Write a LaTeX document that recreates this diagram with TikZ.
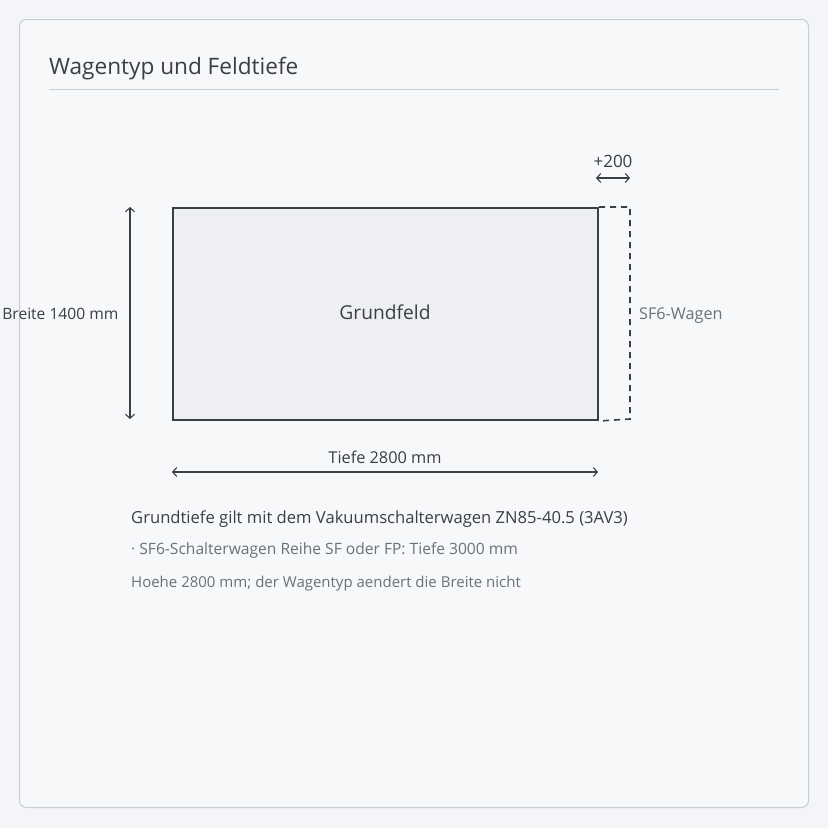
\documentclass[tikz,border=0pt]{standalone}
\usepackage{fontspec}
\setmainfont{Open Sans}
\usetikzlibrary{arrows.meta}
\definecolor{pagebg}{HTML}{F4F5F8}
\definecolor{cardbg}{HTML}{F7F8FA}
\definecolor{cardline}{HTML}{C9CBD6}
\definecolor{ink}{HTML}{3B3E44}
\definecolor{mute}{HTML}{6C7079}
\definecolor{fieldbg}{HTML}{EEEFF3}
\tikzset{
txt/.style={inner sep=0pt, text=ink, anchor=base},
note/.style={txt, text=mute},
dim/.style={draw=ink, line width=1.1pt, {Straight Barb[length=4pt,width=9pt]}-{Straight Barb[length=4pt,width=9pt]}}
}

\begin{document}
\begin{tikzpicture}[x=1pt,y=-1pt]
\useasboundingbox (0,0) rectangle (828,828);
\fill[pagebg] (0,0) rectangle (828,828);
\draw[cardline, fill=cardbg, line width=1pt, rounded corners=7pt] (19.5,19.5) rectangle (808.5,807.5);

\node[txt, anchor=base west, font=\fontsize{22.6}{27}\selectfont] (title) at (49,74) {Wagentyp und Feldtiefe};
\draw[cardline, line width=1pt] (49,89) -- (779,89);

% Grundfeld und SF6-Verlaengerung
\node[draw=ink, fill=fieldbg, line width=2pt, minimum width=425pt, minimum height=212pt, inner sep=0pt, anchor=north west] (feld) at (172,207) {};
\node[txt, font=\fontsize{19.2}{23}\selectfont] at (385,319) {Grundfeld};
\draw[ink, line width=1.6pt, dash pattern=on 6pt off 5pt] (feld.north east) -- ++(31,0) coordinate (ne) -- ++(0,212) coordinate (se) -- (feld.south east);
\node[note, anchor=base west, font=\fontsize{16.2}{19}\selectfont] (sf6) at (639,319) {SF6-Wagen};

% Masse
\coordinate (p1) at (596,178);
\coordinate (p2) at (630,178);
\draw[dim] (p1) -- (p2);
\node[txt, font=\fontsize{17}{20}\selectfont] (plus) at (613,167) {+200};

\coordinate (b1) at (130,207);
\coordinate (b2) at (130,419);
\draw[dim] (b1) -- (b2);
\node[txt, anchor=base east, font=\fontsize{15.6}{19}\selectfont] (breite) at (118.5,319) {Breite 1400 mm};

\coordinate (t1) at (172,472);
\coordinate (t2) at (598,472);
\draw[dim] (t1) -- (t2);
\node[txt, font=\fontsize{16.3}{19}\selectfont] (tiefe) at (385,463) {Tiefe 2800 mm};

% Hinweise
\node[txt, anchor=base west, font=\fontsize{16.6}{19}\selectfont] (l1) at (131,523) {Grundtiefe gilt mit dem Vakuumschalterwagen ZN85-40.5 (3AV3)};
\node[note, anchor=base west, font=\fontsize{15.6}{17}\selectfont] (l2) at (131,554) {· SF6-Schalterwagen Reihe SF oder FP: Tiefe 3000 mm};
\node[note, anchor=base west, font=\fontsize{15}{17}\selectfont] (l3) at (131,587) {Hoehe 2800 mm; der Wagentyp aendert die Breite nicht};
\end{tikzpicture}
\end{document}
